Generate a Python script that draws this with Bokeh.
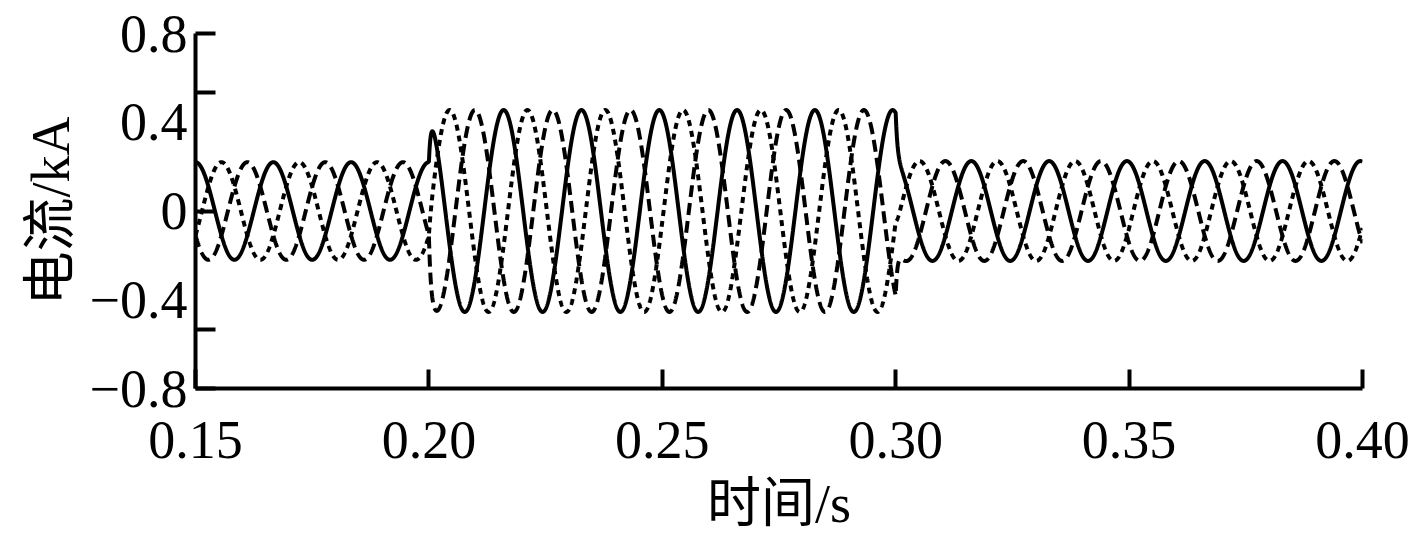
import numpy as np
from bokeh.plotting import figure
from bokeh.models import Range1d, FixedTicker, LinearAxis, ColumnDataSource
from bokeh.embed import file_html
from bokeh.resources import INLINE

# ---- data ----
FREQ_HZ = 60.0
SEGMENT_START = [0.15, 0.20, 0.30]          # pre-fault, fault, post-fault (s)
AMPLITUDE_KA = [0.22, 0.455, 0.225]         # peak current per segment (kA)
PHASE_A_DEG = [0.0, 14.0, 10.0]             # solid
PHASE_B_DEG = [-120.0, -96.0, -110.0]       # dotted
PHASE_C_DEG = [120.0, 147.0, 130.0]         # dashed
TRANSIENT_TAU_S = 0.0004
T_START, T_END, T_STEP = 0.15, 0.40, 0.00002

X_TICKS = [0.15, 0.20, 0.25, 0.30, 0.35, 0.40]
X_TICK_LABELS = ["0.15", "0.20", "0.25", "0.30", "0.35", "0.40"]
Y_TICK_MARKS = [-0.8, -0.535, 0.0, 0.535, 0.8]
Y_LABEL_VALUES = [-0.8, -0.4, 0.0, 0.4, 0.8]
Y_LABEL_TEXTS = ["\u22120.8", "\u22120.4", "0", "0.4", "0.8"]

X_TITLE = "时间/s"
Y_TITLE = "电流/kA"


def waveform(phases_deg):
    t = np.arange(T_START, T_END + T_STEP / 2, T_STEP)
    w = 2 * np.pi * FREQ_HZ

    def steady(k, tt):
        return AMPLITUDE_KA[k] * np.cos(w * tt + np.radians(phases_deg[k]))

    y = np.zeros_like(t)
    for k, t0 in enumerate(SEGMENT_START):
        t1 = SEGMENT_START[k + 1] if k + 1 < len(SEGMENT_START) else np.inf
        m = (t >= t0) & (t < t1)
        y[m] = steady(k, t[m])
        if k > 0:
            jump = steady(k - 1, t0) - steady(k, t0)
            y[m] += jump * np.exp(-(t[m] - t0) / TRANSIENT_TAU_S)
    return t, y


FONT = "'Liberation Serif', 'Noto Sans CJK SC'"
FS = "54px"

p = figure(width=1412, height=536, output_backend="svg", toolbar_location=None,
           x_range=Range1d(0.15, 0.40), y_range=Range1d(-0.8, 0.8),
           min_border_left=195, min_border_right=50, min_border_top=33,
           min_border_bottom=146)
p.outline_line_color = None
p.xgrid.visible = False
p.ygrid.visible = False
p.background_fill_color = "white"

styles = [(PHASE_A_DEG, "solid"), (PHASE_B_DEG, "6 5"), (PHASE_C_DEG, "12 6")]
for ph, dash in styles:
    t, y = waveform(ph)
    src = ColumnDataSource(dict(t=t, y=y))
    p.line("t", "y", source=src, line_color="black", line_width=4, line_dash=dash)

# x axis
xa = p.xaxis[0]
xa.ticker = FixedTicker(ticks=X_TICKS)
xa.major_label_overrides = {v: s for v, s in zip(X_TICKS, X_TICK_LABELS)}
xa.minor_tick_line_color = None
xa.major_tick_in = 19
xa.major_tick_out = 0
xa.major_tick_line_width = 4
xa.axis_line_width = 4
xa.major_label_text_font = FONT
xa.major_label_text_font_size = FS
xa.major_label_text_color = "black"
xa.major_label_standoff = 33
xa.axis_label = X_TITLE
xa.axis_label_text_font = FONT
xa.axis_label_text_font_size = FS
xa.axis_label_text_font_style = "normal"
xa.axis_label_text_color = "black"
xa.axis_label_standoff = 13

# inner y axis: the line and its tick marks only
ya = p.yaxis[0]
ya.ticker = FixedTicker(ticks=Y_TICK_MARKS)
ya.major_label_overrides = {v: "" for v in Y_TICK_MARKS}
ya.major_label_text_font_size = "0px"
ya.major_label_standoff = 0
ya.minor_tick_line_color = None
ya.major_tick_in = 20
ya.major_tick_out = 0
ya.major_tick_line_width = 4
ya.axis_line_width = 4

# outer y axis: the tick labels and the title
yl = LinearAxis(ticker=FixedTicker(ticks=Y_LABEL_VALUES),
                major_label_overrides={v: s for v, s in zip(Y_LABEL_VALUES, Y_LABEL_TEXTS)})
yl.axis_line_color = None
yl.major_tick_line_color = None
yl.minor_tick_line_color = None
yl.major_tick_in = 0
yl.major_tick_out = 0
yl.major_label_text_font = FONT
yl.major_label_text_font_size = FS
yl.major_label_text_color = "black"
yl.major_label_standoff = 8
yl.axis_label = Y_TITLE
yl.axis_label_text_font = FONT
yl.axis_label_text_font_size = FS
yl.axis_label_text_font_style = "normal"
yl.axis_label_text_color = "black"
yl.axis_label_standoff = 6
p.add_layout(yl, "left")

open("out.html", "w").write(file_html(p, INLINE))
